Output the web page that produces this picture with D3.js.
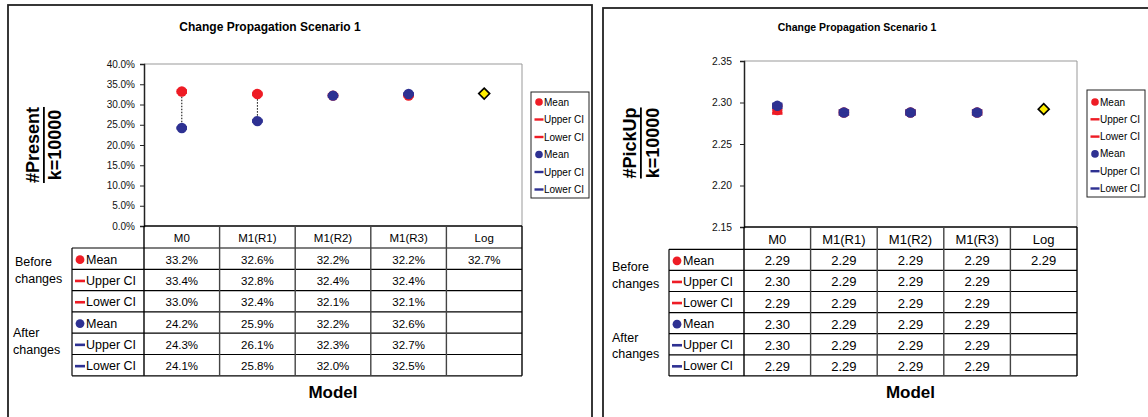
<!DOCTYPE html>
<html><head><meta charset="utf-8">
<script src="https://cdn.jsdelivr.net/npm/d3@7"></script>
<style>
body{margin:0;background:#fff;}
svg{display:block;font-family:Arial,"Liberation Sans",sans-serif;}
</style></head><body>
<svg id="chart" width="1148" height="417"></svg>
<script>
// Categories shared by both panels
const models = ["M0", "M1(R1)", "M1(R2)", "M1(R3)", "Log"];
const rowNames = ["Mean", "Upper CI", "Lower CI", "Mean", "Upper CI", "Lower CI"];

// #Present (percent), before and after changes
const presentBeforeMean  = [33.2, 32.6, 32.2, 32.2];
const presentBeforeUpper = [33.4, 32.8, 32.4, 32.4];
const presentBeforeLower = [33.0, 32.4, 32.1, 32.1];
const presentAfterMean   = [24.2, 25.9, 32.2, 32.6];
const presentAfterUpper  = [24.3, 26.1, 32.3, 32.7];
const presentAfterLower  = [24.1, 25.8, 32.0, 32.5];
const presentLog = [32.7];
const presentTicks = [0, 5, 10, 15, 20, 25, 30, 35, 40];

// #PickUp, before and after changes
const pickupBeforeMean  = [2.291, 2.288, 2.288, 2.288];
const pickupBeforeUpper = [2.296, 2.290, 2.290, 2.290];
const pickupBeforeLower = [2.287, 2.286, 2.286, 2.286];
const pickupAfterMean   = [2.296, 2.288, 2.288, 2.288];
const pickupAfterUpper  = [2.298, 2.290, 2.290, 2.290];
const pickupAfterLower  = [2.294, 2.286, 2.286, 2.286];
const pickupLog = [2.292];
const pickupTicks = [2.15, 2.20, 2.25, 2.30, 2.35];

const RED = "#ee1c25", BLUE = "#2e3192", YELLOW = "#ffee00";

const svg = d3.select("#chart");

function drawPanel(cfg) {
  const g = svg.append("g");
  const series = [
    {vals: cfg.data[0], color: RED, shape: "circle"},
    {vals: cfg.data[1], color: RED, shape: "dash"},
    {vals: cfg.data[2], color: RED, shape: "dash"},
    {vals: cfg.data[3], color: BLUE, shape: "circle"},
    {vals: cfg.data[4], color: BLUE, shape: "dash"},
    {vals: cfg.data[5], color: BLUE, shape: "dash"}
  ];

  // outer frame
  g.append("rect").attr("x", cfg.frame[0]).attr("y", cfg.frame[1])
    .attr("width", cfg.frame[2]).attr("height", cfg.frame[3])
    .attr("fill", "none").attr("stroke", "#222").attr("stroke-width", 1.8);

  g.append("text").attr("x", cfg.titleX).attr("y", cfg.titleY)
    .attr("text-anchor", "middle").attr("dominant-baseline", "central")
    .attr("font-size", cfg.titleSize).attr("font-weight", "bold").text("Change Propagation Scenario 1");

  const x = d3.scaleBand().domain(models).range([cfg.left, cfg.right]).padding(0);
  const y = d3.scaleLinear().domain(cfg.domain).range([cfg.bottom, cfg.top]);
  const cx = d => x(d) + x.bandwidth() / 2;

  // plot area top and right edges
  g.append("path")
    .attr("d", `M${cfg.left},${cfg.top}H${cfg.right}V${cfg.bottom}`)
    .attr("fill", "none").attr("stroke", "#999").attr("stroke-width", 1);

  // value axis
  const ax = g.append("g").attr("transform", `translate(${cfg.left},0)`)
    .call(d3.axisLeft(y).tickValues(cfg.ticks).tickFormat(cfg.tickFmt)
      .tickSize(4).tickPadding(cfg.tickPad));
  ax.select(".domain").attr("stroke", "#222").attr("stroke-width", 1.5);
  ax.selectAll(".tick line").attr("stroke", "#222");
  ax.selectAll(".tick text").attr("font-size", cfg.tickSize).attr("fill", "#111")
    .attr("font-family", "Arial, 'Liberation Sans', sans-serif");

  // high-low lines joining the before/after values
  const cats = models.slice(0, 4);
  g.selectAll(".hilo").data(cats).join("line")
    .attr("x1", d => cx(d)).attr("x2", d => cx(d))
    .attr("y1", (d, i) => y(d3.max(series, s => s.vals[i])))
    .attr("y2", (d, i) => y(d3.min(series, s => s.vals[i])))
    .attr("stroke", "#000").attr("stroke-width", 1).attr("stroke-dasharray", "1.5,1.5");

  // series markers
  series.forEach(s => {
    const pts = cats.map((c, i) => ({c, v: s.vals[i]}));
    if (s.shape === "circle") {
      g.append("g").selectAll("circle").data(pts).join("circle")
        .attr("cx", d => cx(d.c)).attr("cy", d => y(d.v)).attr("r", 5.2)
        .attr("fill", s.color);
    } else {
      g.append("g").selectAll("rect").data(pts).join("rect")
        .attr("x", d => cx(d.c) - 5.2).attr("y", d => y(d.v) - 1.5)
        .attr("width", 10.4).attr("height", 3).attr("fill", s.color);
    }
  });

  // Log marker
  const lx = cx("Log"), ly = y(cfg.log[0]);
  g.append("path")
    .attr("d", `M${lx},${ly - 5.5}L${lx + 5.5},${ly}L${lx},${ly + 5.5}L${lx - 5.5},${ly}Z`)
    .attr("fill", YELLOW).attr("stroke", "#000").attr("stroke-width", 1.6);

  // legend
  const lb = cfg.legendBox;
  const lg = g.append("g");
  lg.append("rect").attr("x", lb[0]).attr("y", lb[1]).attr("width", lb[2]).attr("height", lb[3])
    .attr("fill", "#fff").attr("stroke", "#222").attr("stroke-width", 1);
  series.forEach((s, i) => {
    const yy = cfg.legendRow0 + i * cfg.legendStep;
    const mx = lb[0] + 8;
    if (s.shape === "circle") {
      lg.append("circle").attr("cx", mx).attr("cy", yy).attr("r", 3.8).attr("fill", s.color);
    } else {
      lg.append("rect").attr("x", mx - 4.5).attr("y", yy - 1.2).attr("width", 9).attr("height", 2.4).attr("fill", s.color);
    }
    lg.append("text").attr("x", mx + 5).attr("y", yy).attr("dominant-baseline", "central")
      .attr("font-size", 10).text(rowNames[i]);
  });

  // data table
  const t = g.append("g");
  const hdrBottom = cfg.bottom + cfg.headerH;
  const rowY = i => hdrBottom + i * cfg.rowH;
  const tBottom = rowY(6);
  // header cells
  t.selectAll(".hdr").data(models).join("text")
    .attr("x", d => cx(d)).attr("y", cfg.bottom + cfg.headerH / 2 + 1)
    .attr("text-anchor", "middle").attr("dominant-baseline", "central")
    .attr("font-size", cfg.numSize).text(d => d);
  // horizontal rules
  t.append("line").attr("x1", cfg.left).attr("x2", cfg.right)
    .attr("y1", cfg.bottom).attr("y2", cfg.bottom).attr("stroke", "#000").attr("stroke-width", 1.5);
  d3.range(7).forEach(i => {
    t.append("line").attr("x1", cfg.legendLeft).attr("x2", cfg.right)
      .attr("y1", rowY(i)).attr("y2", rowY(i)).attr("stroke", "#000").attr("stroke-width", 1.2);
  });
  // vertical rules
  t.append("line").attr("x1", cfg.legendLeft).attr("x2", cfg.legendLeft)
    .attr("y1", hdrBottom).attr("y2", tBottom).attr("stroke", "#000").attr("stroke-width", 1.2);
  const vx = models.map(m => x(m)).concat([cfg.right]);
  vx.forEach((xv, i) => {
    t.append("line").attr("x1", xv).attr("x2", xv).attr("y1", cfg.bottom).attr("y2", tBottom)
      .attr("stroke", (i === 0 || i === vx.length - 1) ? "#000" : "#444").attr("stroke-width", 1.4);
  });
  // row labels and values
  series.forEach((s, i) => {
    const yc = rowY(i) + cfg.rowH / 2 + 1;
    const mx = cfg.legendLeft + 8;
    if (s.shape === "circle") {
      t.append("circle").attr("cx", mx).attr("cy", yc).attr("r", 4.4).attr("fill", s.color);
    } else {
      t.append("rect").attr("x", mx - 5).attr("y", yc - 1.3).attr("width", 10).attr("height", 2.6).attr("fill", s.color);
    }
    t.append("text").attr("x", mx + 6).attr("y", yc).attr("dominant-baseline", "central")
      .attr("font-size", cfg.labelSize).text(rowNames[i]);
    t.selectAll(null).data(cats.map((c, j) => ({c, v: s.vals[j]}))).join("text")
      .attr("x", d => cx(d.c)).attr("y", yc).attr("text-anchor", "middle").attr("dominant-baseline", "central")
      .attr("font-size", cfg.numSize).text(d => cfg.valFmt(d.v));
  });
  t.append("text").attr("x", cx("Log")).attr("y", rowY(0) + cfg.rowH / 2 + 1)
    .attr("text-anchor", "middle").attr("dominant-baseline", "central")
    .attr("font-size", cfg.numSize).text(cfg.valFmt(cfg.log[0]));

  // group labels
  [["Before", cfg.before[0], cfg.before[1]], ["changes", cfg.before[0], cfg.before[2]],
   ["After", cfg.after[0], cfg.after[1]], ["changes", cfg.after[0], cfg.after[2]]]
    .forEach(([txt, xx, yy]) => {
      t.append("text").attr("x", xx).attr("y", yy).attr("dominant-baseline", "central")
        .attr("font-size", cfg.labelSize).text(txt);
    });

  // axis titles
  g.append("text").attr("transform", `translate(${cfg.ylab[0]},${cfg.ylab[2]}) rotate(-90)`)
    .attr("text-anchor", "middle").attr("dominant-baseline", "central")
    .attr("font-size", 18).attr("font-weight", "bold").attr("text-decoration", "underline")
    .text(cfg.yTitle);
  g.append("text").attr("transform", `translate(${cfg.ylab[1]},${cfg.ylab[2]}) rotate(-90)`)
    .attr("text-anchor", "middle").attr("dominant-baseline", "central")
    .attr("font-size", 18).attr("font-weight", "bold").text("k=10000");
  g.append("text").attr("x", (cfg.left + cfg.right) / 2).attr("y", cfg.modelY)
    .attr("text-anchor", "middle").attr("dominant-baseline", "central")
    .attr("font-size", 17).attr("font-weight", "bold").text("Model");
}

const pctFmt = v => d3.format(".1f")(v) + "%";

drawPanel({
  data: [presentBeforeMean, presentBeforeUpper, presentBeforeLower,
         presentAfterMean, presentAfterUpper, presentAfterLower],
  log: presentLog,
  frame: [8, 5, 584, 440],
  titleX: 270, titleY: 27, titleSize: 12,
  left: 144, right: 522, top: 64, bottom: 226,
  domain: [0, 40], ticks: presentTicks, tickFmt: pctFmt, tickPad: 5, tickSize: 10,
  headerH: 22, rowH: 21.3, legendLeft: 72,
  numSize: 11.5, labelSize: 12.5, valFmt: pctFmt,
  before: [15, 262, 279], after: [13, 333, 350],
  legendBox: [531, 92, 58, 106], legendRow0: 102, legendStep: 17.5,
  ylab: [33, 55, 145], yTitle: "#Present", modelY: 392
});

drawPanel({
  data: [pickupBeforeMean, pickupBeforeUpper, pickupBeforeLower,
         pickupAfterMean, pickupAfterUpper, pickupAfterLower],
  log: pickupLog,
  frame: [603, 8, 600, 440],
  titleX: 857, titleY: 27, titleSize: 10.5,
  left: 744, right: 1077, top: 61, bottom: 227,
  domain: [2.15, 2.35], ticks: pickupTicks, tickFmt: d3.format(".2f"), tickPad: 8, tickSize: 10.3,
  headerH: 22.3, rowH: 21.1, legendLeft: 669,
  numSize: 13, labelSize: 12.5, valFmt: d3.format(".2f"),
  before: [612, 267, 284], after: [612, 338, 354],
  legendBox: [1087, 90, 58, 107], legendRow0: 102, legendStep: 17.3,
  ylab: [630, 653, 143], yTitle: "#PickUp", modelY: 392
});
</script>
</body></html>
